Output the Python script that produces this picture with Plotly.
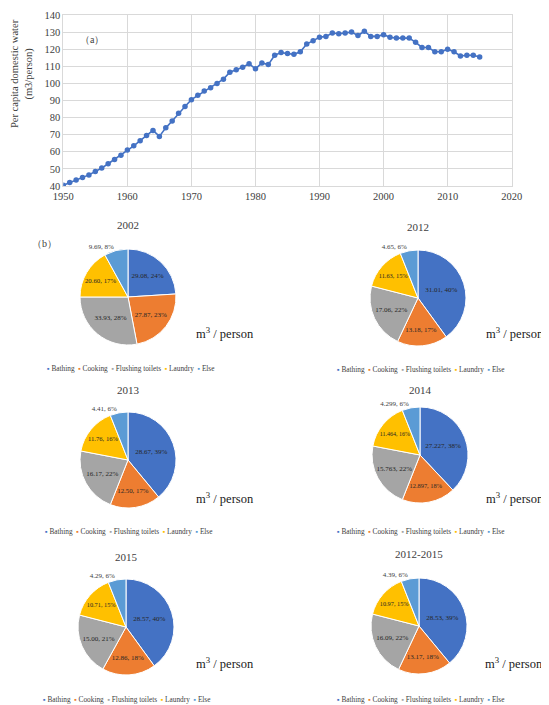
import plotly.graph_objects as go

# page body has an 8px margin, so the figure is drawn 8px in from the window corner
OFF = 8
WIN_W, WIN_H = 549, 705
W, H = WIN_W - OFF, WIN_H - OFF

# ---------------- data ----------------
years = list(range(1950, 2016))
per_capita = [40.5, 42, 43.5, 45, 46.5, 48.5, 50.5, 53, 55.5, 58,
              61, 63.5, 66.5, 69.5, 72.5, 69, 74, 78, 82.5, 86.5,
              90.5, 93, 95.5, 97.5, 100, 102.5, 106.5, 108, 109.5, 111.5,
              108.5, 112, 111, 116.5, 118, 117.5, 117, 118.5, 123, 125,
              127, 127.5, 129.5, 129, 129.5, 130, 128, 130.5, 127.5, 127.5,
              128.5, 127, 126.5, 126.5, 126.5, 124, 121, 121, 118.5, 118.5,
              120, 118.5, 116, 116.5, 116.5, 115.5]

categories = ["Bathing", "Cooking", "Flushing toilets", "Laundry", "Else"]
pie_titles = ["2002", "2012", "2013", "2014", "2015", "2012-2015"]
v2002 = [29.08, 27.87, 33.93, 20.60, 9.69]
v2012 = [31.01, 13.18, 17.06, 11.63, 4.65]
v2013 = [28.67, 12.50, 16.17, 11.76, 4.41]
v2014 = [27.227, 12.897, 15.763, 11.464, 4.299]
v2015 = [28.57, 12.86, 15.00, 10.71, 4.29]
v2012_2015 = [28.53, 13.17, 16.09, 10.97, 4.39]
pie_values = [v2002, v2012, v2013, v2014, v2015, v2012_2015]

colors = ["#4472C4", "#ED7D31", "#A5A5A5", "#FFC000", "#5B9BD5"]
FONT = "Liberation Serif"
TXT = "#404040"

def px(x):
    return (x - OFF) / W

def py(y):
    return 1 - (y - OFF) / H

fig = go.Figure()

# ---------------- line chart (a) ----------------
fig.add_trace(go.Scatter(
    x=years, y=per_capita, mode="lines+markers",
    line=dict(color="#4472C4", width=1.6),
    marker=dict(color="#4472C4", size=5.5),
    showlegend=False, xaxis="x", yaxis="y"))

fig.update_layout(
    xaxis=dict(domain=[px(63.3), px(511.7)], range=[1950, 2020], dtick=10,
               showgrid=True, gridcolor="#D9D9D9", gridwidth=1,
               showline=True, linecolor="#D9D9D9", mirror=True, automargin=False,
               zeroline=False, ticks="", tickfont=dict(family=FONT, size=10.5, color=TXT),
               anchor="y"),
    yaxis=dict(domain=[py(186), py(15)], range=[40, 140], dtick=10,
               showgrid=True, gridcolor="#D9D9D9", gridwidth=1,
               showline=True, linecolor="#D9D9D9", mirror=True, automargin=False,
               zeroline=False, ticks="", tickfont=dict(family=FONT, size=10.5, color=TXT),
               anchor="x"),
)

annotations = [
    dict(x=px(22), y=py(74), xref="paper", yref="paper", textangle=-90,
         text="Per capita domestic water<br>(m3/person)", showarrow=False,
         font=dict(family=FONT, size=10.5, color=TXT), xanchor="center", yanchor="middle"),
    dict(x=px(92), y=py(40), xref="paper", yref="paper", text="（a）", showarrow=False,
         font=dict(family=FONT, size=10, color=TXT), xanchor="center", yanchor="middle"),
    dict(x=px(44), y=py(243), xref="paper", yref="paper", text="（b）", showarrow=False,
         font=dict(family=FONT, size=10, color=TXT), xanchor="center", yanchor="middle"),
]

# ---------------- pies (b) ----------------
# layout: centre x, centre y, title y, unit label x, unit y, legend x, legend y, value format
pie_layout = [
    (128, 297, 225, 225, 333, 130, 368, ".2f"),
    (418, 298, 227, 515, 333, 420, 369, ".2f"),
    (128, 460, 390, 225, 498, 128, 531, ".2f"),
    (420, 455, 390, 515, 498, 420, 531, ".3f"),
    (126, 627, 557, 225, 663, 126, 699, ".2f"),
    (419, 626, 554, 514, 663, 420, 699, ".2f"),
]
R = 48

for title, vals, (cx, cy, ty, ux, uy, lx, ly, fmt) in zip(pie_titles, pie_values, pie_layout):
    fig.add_trace(go.Pie(
        labels=categories, values=vals, sort=False, direction="clockwise", rotation=0,
        domain=dict(x=[px(cx - R), px(cx + R)], y=[py(cy + R), py(cy - R)]),
        marker=dict(colors=colors, line=dict(color="white", width=1)),
        texttemplate="%{value:" + fmt + "}, %{percent:.0%}",
        textposition=["inside", "inside", "inside", "inside", "outside"],
        insidetextorientation="horizontal",
        textfont=dict(family=FONT, size=7, color="#262626"),
        outsidetextfont=dict(family=FONT, size=7, color=TXT),
        showlegend=False, automargin=False, hoverinfo="label+value+percent"))
    annotations.append(dict(x=px(cx), y=py(ty), xref="paper", yref="paper", text=title,
                            showarrow=False, font=dict(family=FONT, size=11, color=TXT),
                            xanchor="center", yanchor="middle"))
    annotations.append(dict(x=px(ux), y=py(uy), xref="paper", yref="paper",
                            text="m<sup>3</sup> / person", showarrow=False,
                            font=dict(family=FONT, size=12.5, color="#202020"),
                            xanchor="center", yanchor="middle"))
    leg = "  ".join(f"<span style='color:{c}'>▪</span> {lab}" for c, lab in zip(colors, categories))
    annotations.append(dict(x=px(lx), y=py(ly), xref="paper", yref="paper", text=leg,
                            showarrow=False, font=dict(family=FONT, size=7.3, color="#404040"),
                            xanchor="center", yanchor="middle"))

fig.update_layout(
    width=W, height=H, margin=dict(l=0, r=0, t=0, b=0, autoexpand=False),
    paper_bgcolor="white", plot_bgcolor="white",
    font=dict(family=FONT, color=TXT),
    annotations=annotations,
    showlegend=False,
)

fig.write_html("out.html")
